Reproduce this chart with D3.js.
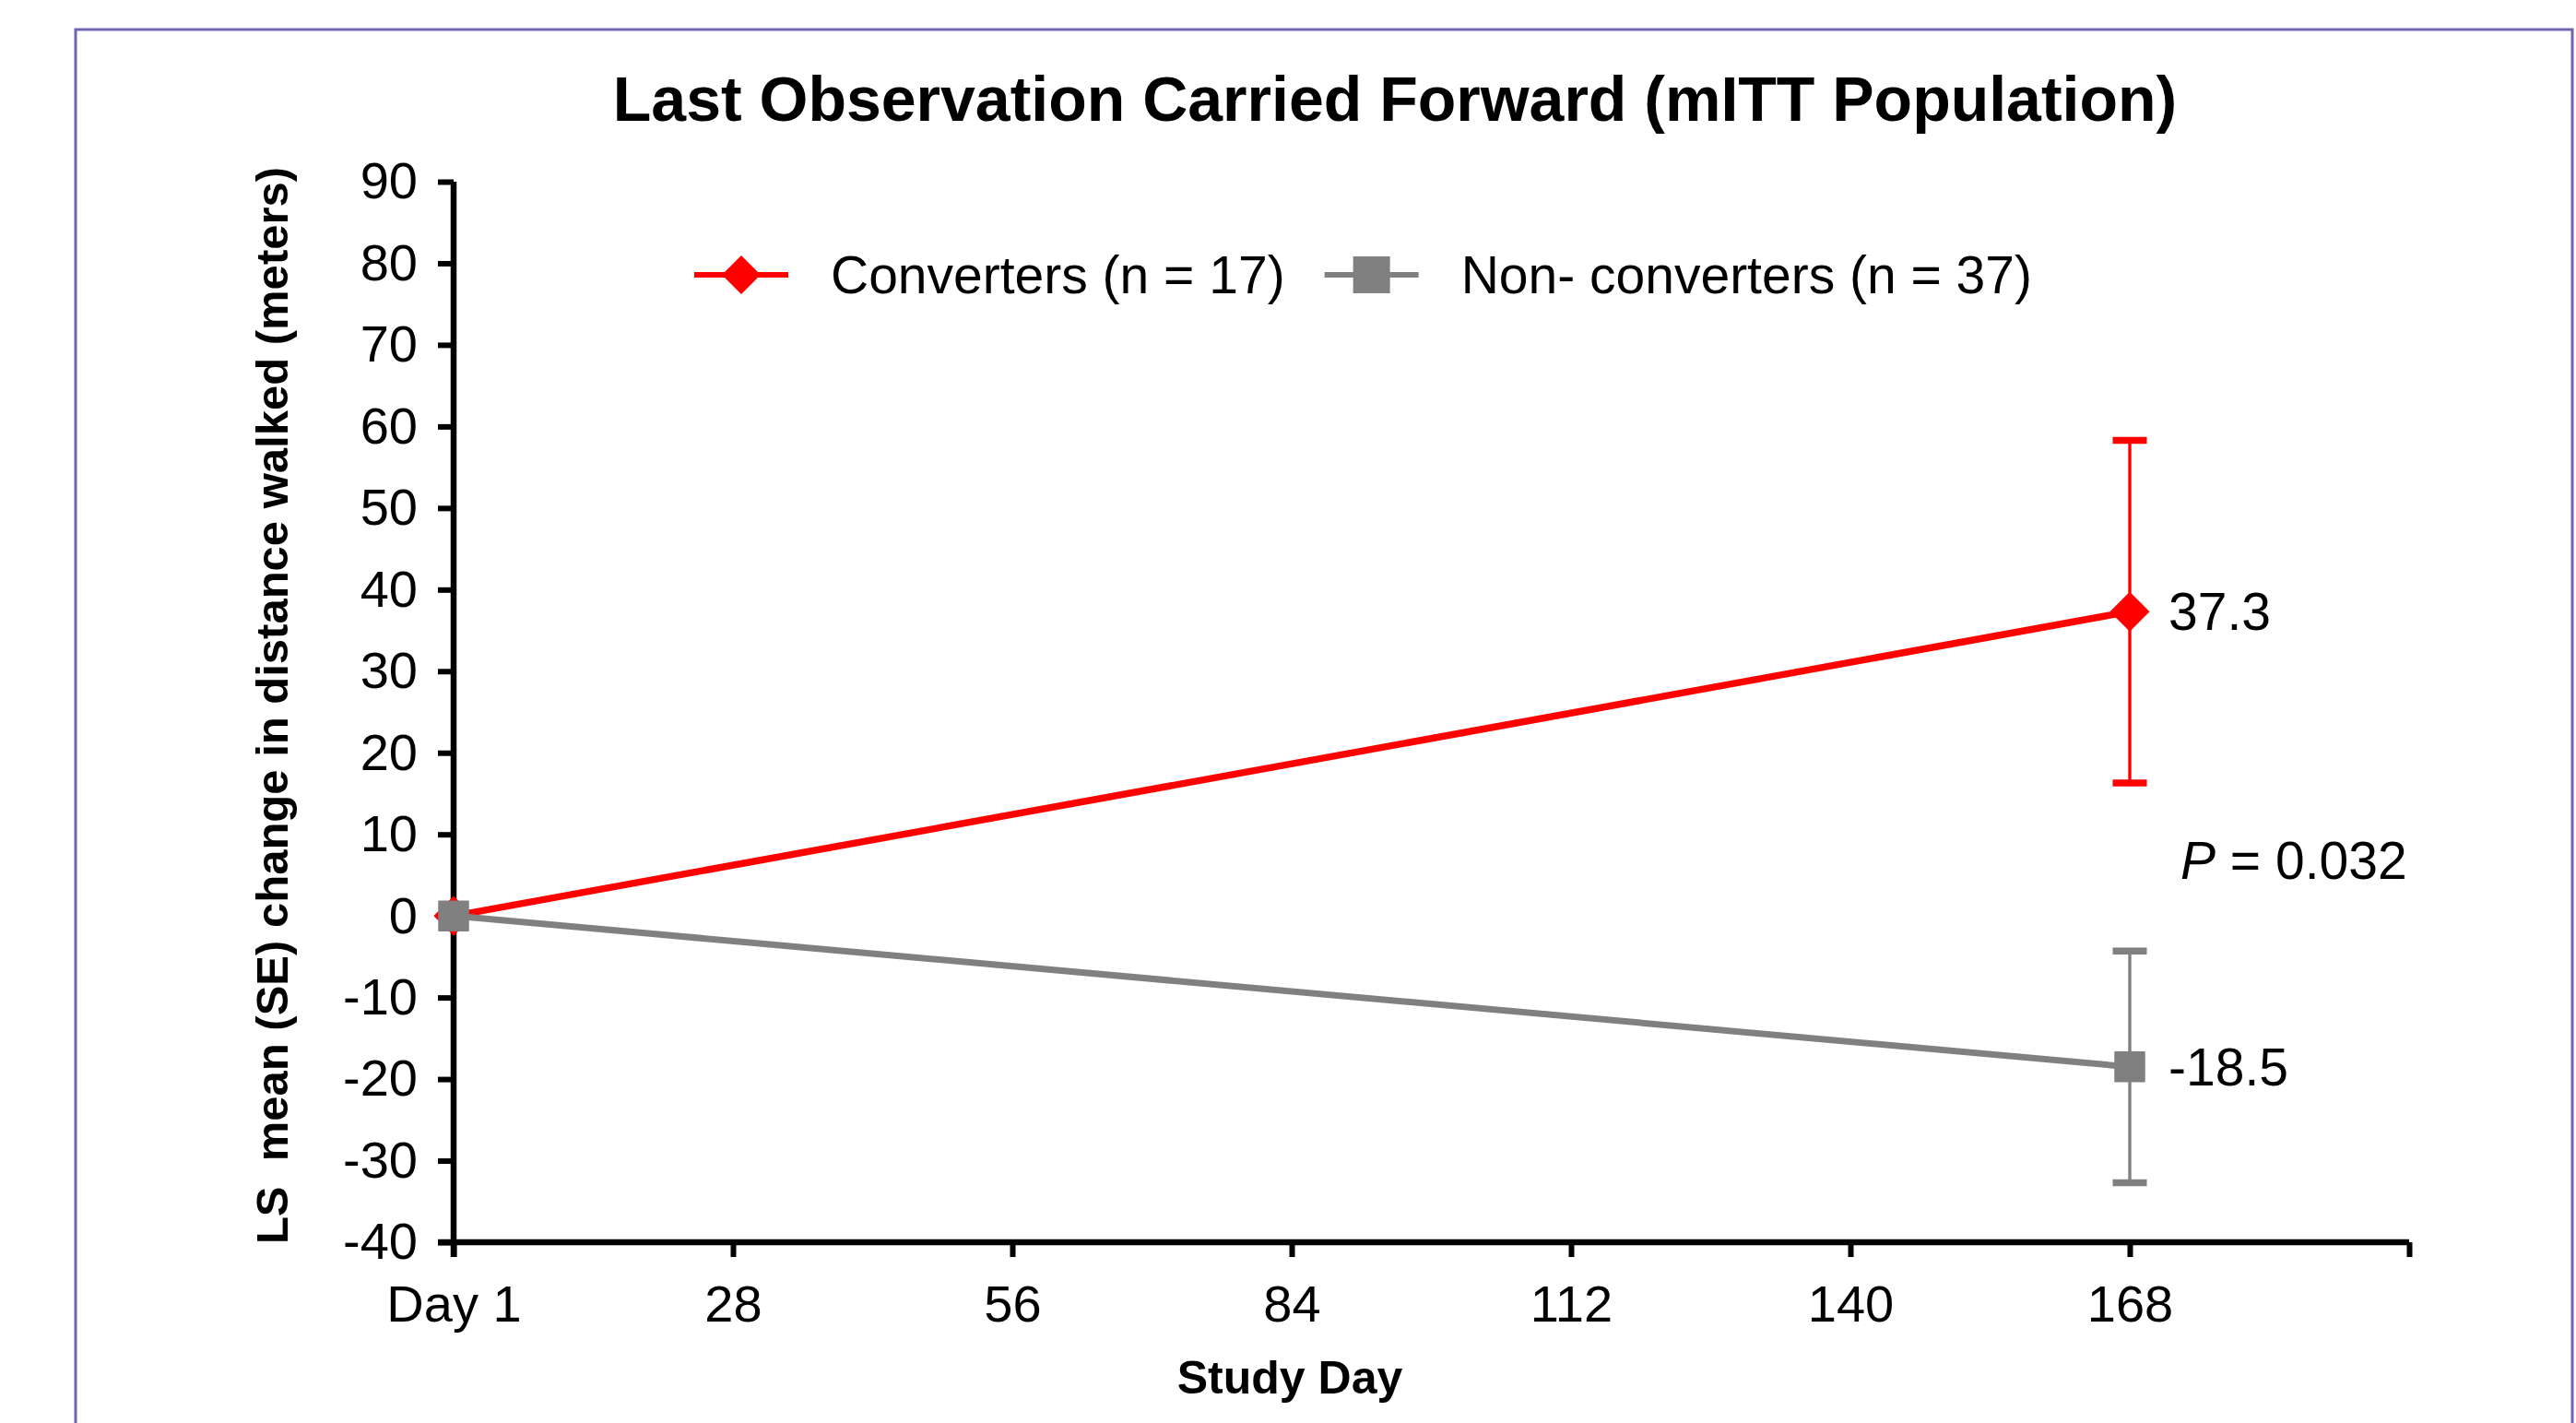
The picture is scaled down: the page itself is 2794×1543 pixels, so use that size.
<!DOCTYPE html>
<html>
<head>
<meta charset="utf-8">
<script src="https://cdn.jsdelivr.net/npm/d3@7"></script>
<style>
  html, body { margin: 0; padding: 0; background: #fff; }
  svg { display: block; font-family: 'Liberation Sans', Arial, sans-serif; }
</style>
</head>
<body>
<svg id="chart" width="2794" height="1543"></svg>
<script>
// days on the x axis (0 is shown as "Day 1")
const studyDays = [0, 168]
const xTicks = [0, 28, 56, 84, 112, 140, 168, 196]
const xTickLabels = ['Day 1', '28', '56', '84', '112', '140', '168', '']
const yTicks = [90, 80, 70, 60, 50, 40, 30, 20, 10, 0, -10, -20, -30, -40]

const seriesNames = ['Converters (n = 17)', 'Non- converters (n = 37)']
const convertersMean = [0, 37.3]
const convertersSE = [null, 21.0]
const nonConvertersMean = [0, -18.5]
const nonConvertersSE = [null, 14.2]
const endLabels = ['37.3', '-18.5']

const pValue = '0.032'
const pValuePos = {day: 168, value: 6.8}

const margins = {left: 492, right: 181, top: 197, bottom: 196}
const width = 2794
const height = 1543

const svg = d3.select('#chart')

const xScale = d3.scaleLinear()
  .domain([0, 196])
  .range([margins.left, width - margins.right])

const yScale = d3.scaleLinear()
  .domain([-40, 90])
  .range([height - margins.bottom, margins.top])

// page frame from the document
svg.append('rect')
  .attr('x', 82)
  .attr('y', 32)
  .attr('width', 2708)
  .attr('height', 1600)
  .attr('fill', 'none')
  .attr('stroke', '#6d67b3')
  .attr('stroke-width', 3)

svg.append('text')
  .attr('x', 1513)
  .attr('y', 131)
  .attr('text-anchor', 'middle')
  .attr('font-size', 68)
  .attr('font-weight', 700)
  .text('Last Observation Carried Forward (mITT Population)')

// axes
const yAxis = d3.axisLeft(yScale)
  .tickValues(yTicks)
  .tickFormat(d => String(d))
  .tickSize(17)
  .tickPadding(22)
  .tickSizeOuter(0)

const xAxis = d3.axisBottom(xScale)
  .tickValues(xTicks)
  .tickFormat((d, i) => xTickLabels[i])
  .tickSize(16)
  .tickPadding(30)
  .tickSizeOuter(0)

const gy = svg.append('g')
  .attr('transform', `translate(${margins.left}, 0)`)
  .call(yAxis)

const gx = svg.append('g')
  .attr('transform', `translate(0, ${height - margins.bottom})`)
  .call(xAxis)

for (const g of [gx, gy]) {
  g.select('.domain').attr('stroke', '#000').attr('stroke-width', 6.5)
  g.selectAll('.tick line').attr('stroke', '#000').attr('stroke-width', 6)
  g.selectAll('.tick text')
    .attr('fill', '#000')
    .attr('font-size', 56)
    .attr('font-family', "'Liberation Sans', Arial, sans-serif")
}
// extend x axis to meet the y axis -40 tick
gx.select('.domain').attr('d', `M${margins.left - 17},0H${width - margins.right}`)
gy.select('.domain').attr('d', `M0,${yScale(90)}V${yScale(-40) + 16}`)

svg.append('text')
  .attr('transform', 'translate(312, 765) rotate(-90)')
  .attr('text-anchor', 'middle')
  .attr('font-size', 49)
  .attr('font-weight', 700)
  .style('white-space', 'pre')
  .text('LS  mean (SE) change in distance walked (meters)')

svg.append('text')
  .attr('x', 1399)
  .attr('y', 1511)
  .attr('text-anchor', 'middle')
  .attr('font-size', 50)
  .attr('font-weight', 700)
  .text('Study Day')

const series = [
  {name: seriesNames[0], mean: convertersMean, se: convertersSE, color: '#ff0000',
    symbol: d3.symbolSquare, size: 841, rotate: 45, legendSize: 880, width: 7.5},
  {name: seriesNames[1], mean: nonConvertersMean, se: nonConvertersSE, color: '#808080',
    symbol: d3.symbolSquare, size: 1024, rotate: 0, legendSize: 1600, width: 7},
]

const line = d3.line()
  .x(d => xScale(d.day))
  .y(d => yScale(d.value))

series.forEach((s, si) => {
  const pts = studyDays.map((day, i) => ({day, value: s.mean[i], se: s.se[i]}))
  const g = svg.append('g')

  // error bars
  const bars = g.selectAll('g.err')
    .data(pts.filter(p => p.se != null))
    .join('g')
    .attr('class', 'err')
  bars.append('line')
    .attr('x1', d => xScale(d.day))
    .attr('x2', d => xScale(d.day))
    .attr('y1', d => yScale(d.value + d.se))
    .attr('y2', d => yScale(d.value - d.se))
    .attr('stroke', s.color)
    .attr('stroke-width', 3.4)
  bars.selectAll('line.cap')
    .data(d => [d.value + d.se, d.value - d.se].map(v => ({day: d.day, v})))
    .join('line')
    .attr('class', 'cap')
    .attr('x1', d => xScale(d.day) - 18.5)
    .attr('x2', d => xScale(d.day) + 18.5)
    .attr('y1', d => yScale(d.v))
    .attr('y2', d => yScale(d.v))
    .attr('stroke', s.color)
    .attr('stroke-width', 7.5)

  g.append('path')
    .datum(pts)
    .attr('d', line)
    .attr('fill', 'none')
    .attr('stroke', s.color)
    .attr('stroke-width', s.width)

  g.selectAll('path.marker')
    .data(pts)
    .join('path')
    .attr('class', 'marker')
    .attr('d', d3.symbol(s.symbol, s.size))
    .attr('transform', d => `translate(${xScale(d.day)}, ${yScale(d.value)}) rotate(${s.rotate})`)
    .attr('fill', s.color)
    .attr('stroke', s.color)
    .attr('stroke-width', 1.5)
    .attr('stroke-linejoin', 'round')

  // value label at the last point
  const last = pts[pts.length - 1]
  svg.append('text')
    .attr('x', xScale(last.day) + 42)
    .attr('y', yScale(last.value))
    .attr('dy', '0.35em')
    .attr('font-size', 57)
    .text(endLabels[si])
})

// P value
const pText = svg.append('text')
  .attr('x', xScale(pValuePos.day) + 55)
  .attr('y', yScale(pValuePos.value))
  .attr('dy', '0.35em')
  .attr('font-size', 57)
pText.append('tspan').attr('font-style', 'italic').text('P')
pText.append('tspan').text(` = ${pValue}`)

// legend
const legend = svg.append('g').attr('transform', 'translate(753, 298)')
let lx = 0
series.forEach(s => {
  const item = legend.append('g').attr('transform', `translate(${lx}, 0)`)
  item.append('line')
    .attr('x1', 0)
    .attr('x2', 102)
    .attr('stroke', s.color)
    .attr('stroke-width', 6)
  item.append('path')
    .attr('d', d3.symbol(s.symbol, s.legendSize))
    .attr('transform', `translate(51, 0) rotate(${s.rotate})`)
    .attr('fill', s.color)
  const t = item.append('text')
    .attr('x', 148)
    .attr('dy', '0.35em')
    .attr('font-size', 57)
    .text(s.name)
  lx += 148 + t.node().getComputedTextLength() + 43
})
</script>
</body>
</html>
